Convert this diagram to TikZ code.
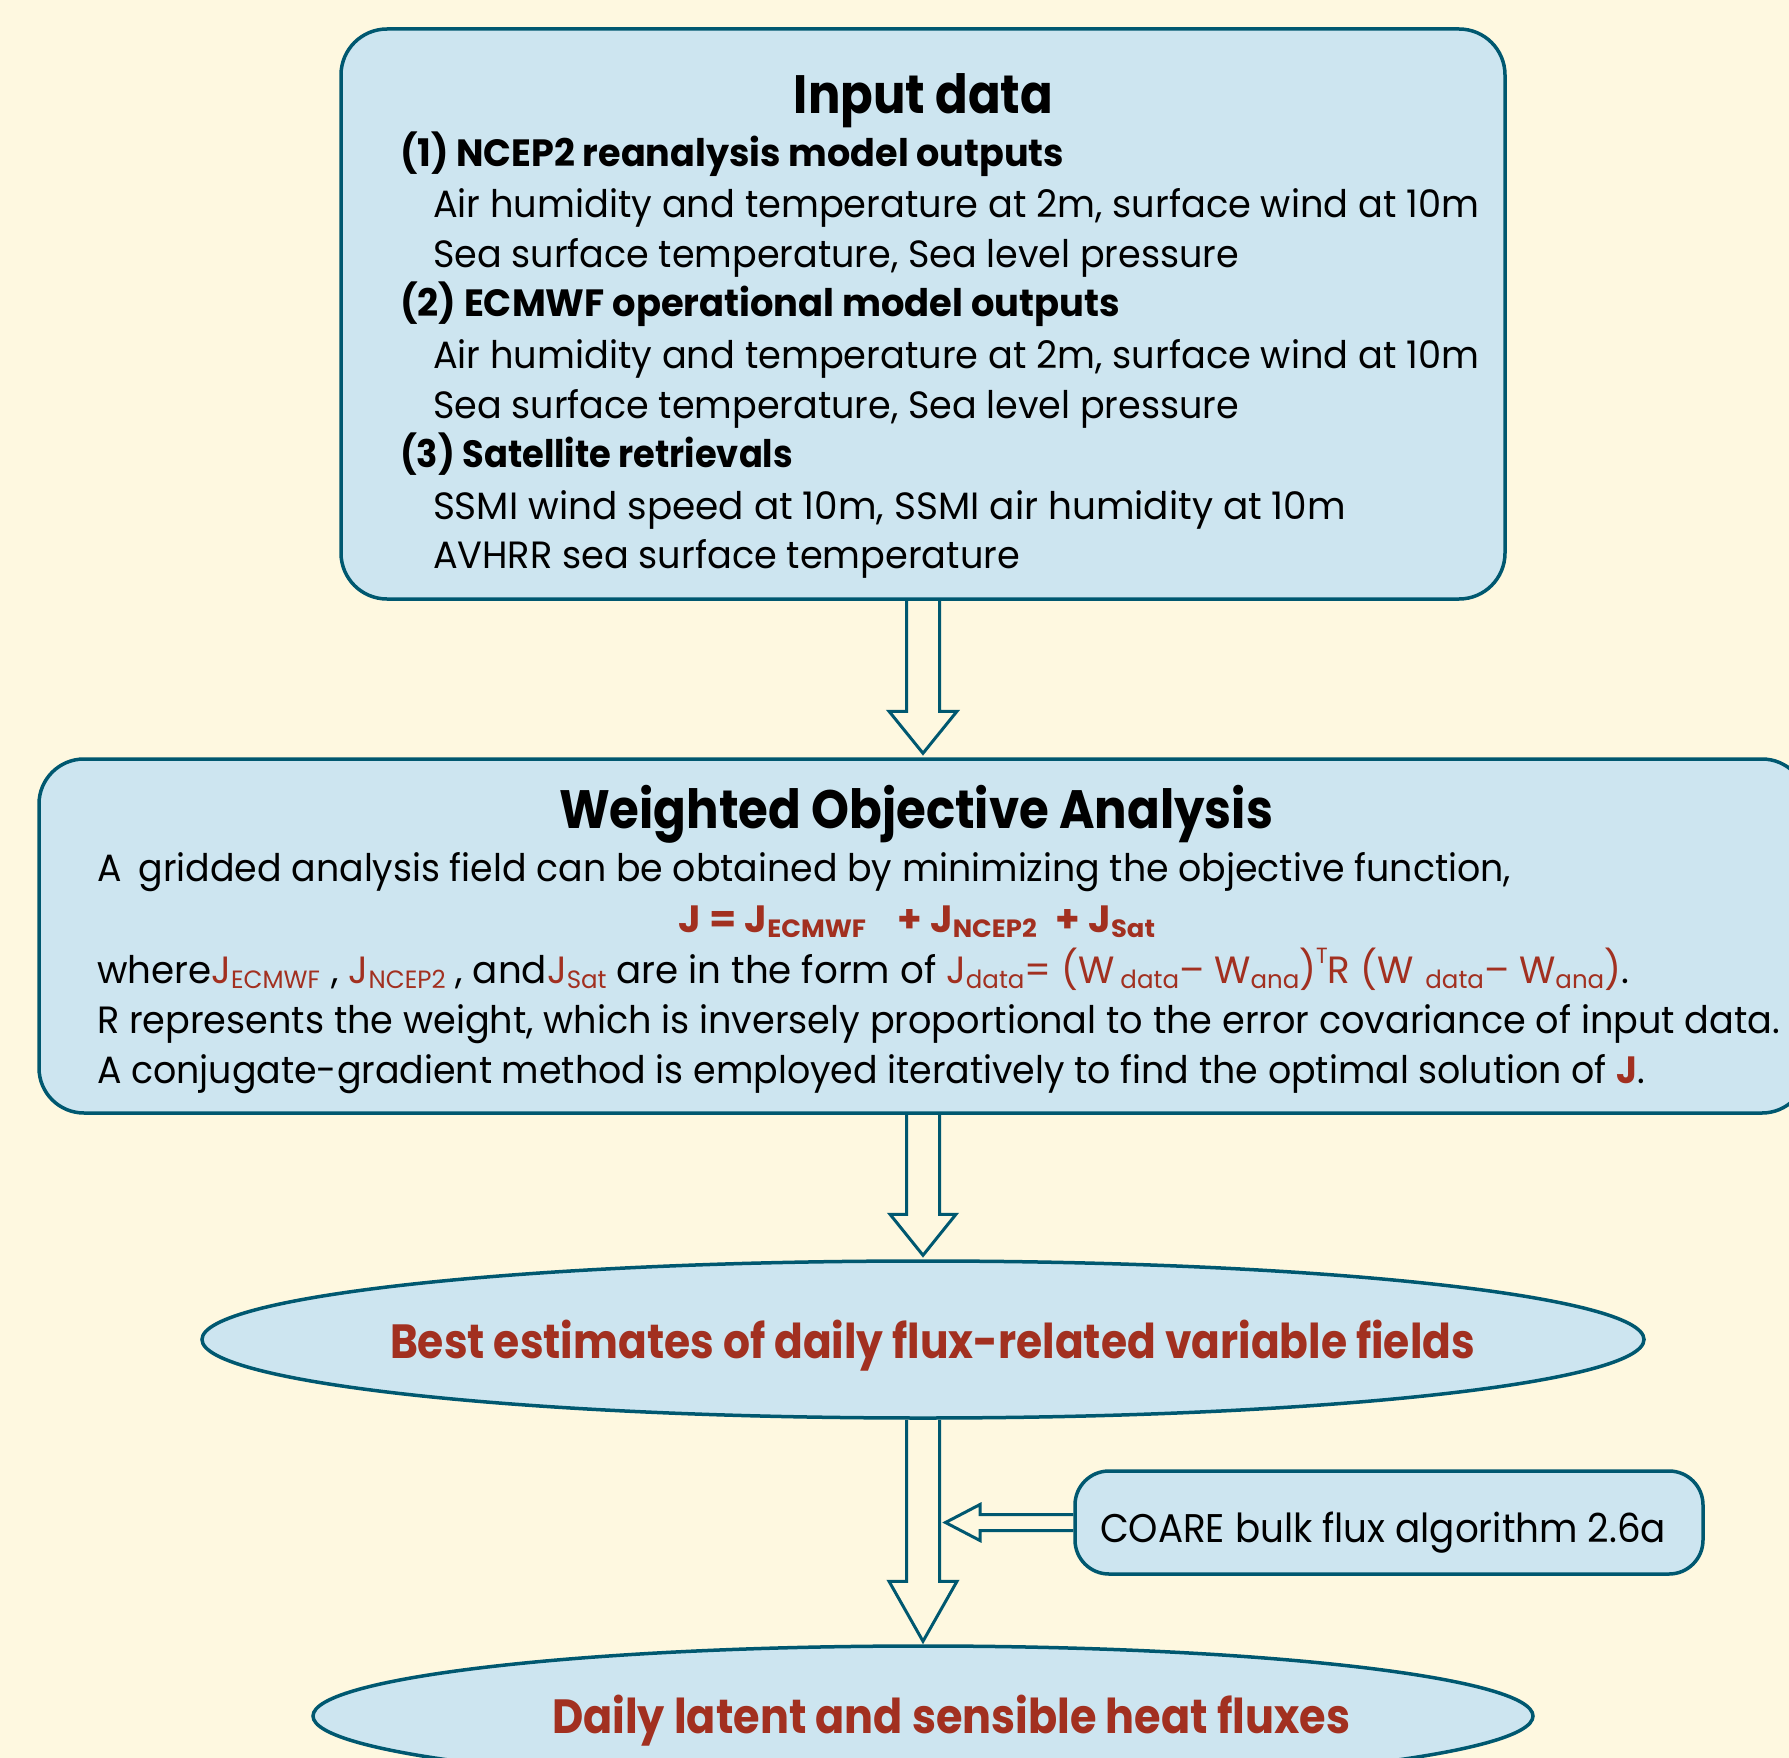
\documentclass[tikz,border=0pt]{standalone}
\usepackage{fontspec}
\setmainfont{Poppins}
\usepackage{graphicx}
\usetikzlibrary{shapes.geometric,calc}
\pgfdeclarelayer{background}
\pgfsetlayers{background,main}
\definecolor{bgc}{RGB}{254,248,224}
\definecolor{boxc}{RGB}{205,229,240}
\definecolor{edgec}{RGB}{0,88,112}
\definecolor{redc}{RGB}{162,48,32}
\newcommand\fitto[2]{\resizebox{#1}{\height}{#2}}
\newcommand\bodyf{\fontsize{38}{46}\selectfont}
\newcommand\subf[1]{\raisebox{-5pt}{\fontsize{25}{25}\selectfont #1}}
\newcommand\supf[1]{\raisebox{20pt}{\fontsize{22}{22}\selectfont #1}}
\newcommand\rd[1]{\textcolor{redc}{#1}}
% vertical block arrow: from, tip, head length, shaft half width, head half width
\newcommand\vblock[5]{%
  \draw[blk] let \p1=(#1), \p2=(#2) in
    (\x1-#4,\y1) -- (\x1-#4,\y2+#3) -- (\x1-#5,\y2+#3) -- (\x1,\y2)
    -- (\x1+#5,\y2+#3) -- (\x1+#4,\y2+#3) -- (\x1+#4,\y1);}
\begin{document}
\begin{tikzpicture}[x=1pt,y=-1pt,
  rbox/.style={draw=edgec, line width=3.5pt, fill=boxc, rectangle, inner sep=0pt},
  ell/.style={draw=edgec, line width=3.5pt, fill=boxc, ellipse, inner sep=0pt},
  txt/.style={inner sep=0pt, outer sep=0pt, font=\bodyf, text=black, anchor=base west},
  ttl/.style={inner sep=0pt, outer sep=0pt, font=\fontsize{54}{60}\selectfont\bfseries, text=black, anchor=base},
  blk/.style={draw=edgec, line width=3pt, fill=bgc, line join=miter}]
\useasboundingbox (0,0) rectangle (1789,1758);

% boxes
\node[rbox, minimum width=1164pt, minimum height=570pt, rounded corners=46pt] (input) at (923,314) {};
\node[rbox, minimum width=1768pt, minimum height=354pt, rounded corners=45pt] (woa) at (923,936) {};
\node[ell, minimum width=1442pt, minimum height=157pt] (best) at (923,1339.5) {};
\node[ell, minimum width=1220pt, minimum height=140pt] (daily) at (923,1716) {};
\node[rbox, minimum width=628pt, minimum height=103pt, rounded corners=34pt] (coare) at (1389,1522.5) {};
\coordinate (ctip) at (945.5,1525);

% input data text
\node[ttl] (t1) at (923.5,113.8) {\fitto{259pt}{Input data}};
\node[txt] (a1) at (400,166.6) {\fitto{664pt}{\bfseries (1) NCEP2 reanalysis model outputs}};
\node[txt] (a2) at (433,218) {\fitto{1046pt}{Air humidity and temperature at 2m, surface wind at 10m}};
\node[txt] (a3) at (433,267) {\fitto{806pt}{Sea surface temperature, Sea level pressure}};
\node[txt] (a4) at (400,316.6) {\fitto{720pt}{\bfseries (2) ECMWF operational model outputs}};
\node[txt] (a5) at (433,368) {\fitto{1046pt}{Air humidity and temperature at 2m, surface wind at 10m}};
\node[txt] (a6) at (433,418) {\fitto{806pt}{Sea surface temperature, Sea level pressure}};
\node[txt] (a7) at (400,467.7) {\fitto{393pt}{\bfseries (3) Satellite retrievals}};
\node[txt] (a8) at (433,519) {\fitto{913pt}{SSMI wind speed at 10m, SSMI air humidity at 10m}};
\node[txt] (a9) at (433,568) {\fitto{587pt}{AVHRR sea surface temperature}};

% weighted objective analysis text
\node[ttl] (t2) at (916,828) {\fitto{714pt}{Weighted Objective Analysis}};
\node[txt] (b1) at (97,881.7) {\fitto{1414pt}{A\hspace{8pt} gridded analysis field can be obtained by minimizing the objective function,}};
\node[txt] (b2) at (678,932.7) {\fitto{477pt}{\bfseries\color{redc}J = J\subf{\bfseries ECMWF}\hspace{22pt} + J\subf{\bfseries NCEP2}\hspace{10pt} + J\subf{\bfseries Sat}}};
\node[txt] (b3) at (97,983) {\fitto{1532pt}{where\rd{J\subf{ECMWF}}\hspace{12pt}, \rd{J\subf{NCEP2}} , and\rd{J\subf{Sat}} are in the form of \rd{J\subf{data}= (W\hspace{6pt}\subf{data}– W\subf{ana})\supf{T}R (W\hspace{12pt}\subf{data}– W\subf{ana})}.}};
\node[txt] (b4) at (97,1033) {\fitto{1683pt}{R represents the weight, which is inversely proportional to the error covariance of input data.}};
\node[txt] (b5) at (97,1083) {\fitto{1548pt}{A conjugate-gradient method is employed iteratively to find the optimal solution of \rd{\bfseries J}.}};

% ellipse and coare text
\node[txt, font=\fontsize{48}{54}\selectfont\bfseries, text=redc] (e1) at (390,1358) {\fitto{1085pt}{Best estimates of daily flux-related variable fields}};
\node[txt, font=\fontsize{48}{54}\selectfont\bfseries, text=redc] (e2) at (552,1733) {\fitto{798pt}{Daily latent and sensible heat fluxes}};
\node[txt, font=\fontsize{40}{46}\selectfont] (c1) at (1100,1542) {\fitto{566pt}{COARE bulk flux algorithm 2.6a}};

\begin{pgfonlayer}{background}
\fill[bgc] (0,0) rectangle (1789,1758);
\vblock{input.south}{$(woa.north)+(0,-4)$}{42pt}{16.5pt}{34pt}
\vblock{woa.south}{$(best.north)+(0,-4)$}{41pt}{16.5pt}{33pt}
\vblock{best.south}{$(daily.north)+(0,-3)$}{60pt}{16.5pt}{34pt}
\draw[blk] let \p1=(coare.west), \p2=(ctip) in
  (\x1,\y1+8pt) -- (\x2+34.5pt,\y1+8pt) -- (\x2+34.5pt,\y1+18pt) -- (\x2,\y1)
  -- (\x2+34.5pt,\y1-18pt) -- (\x2+34.5pt,\y1-8pt) -- (\x1,\y1-8pt);
\end{pgfonlayer}
\end{tikzpicture}
\end{document}
